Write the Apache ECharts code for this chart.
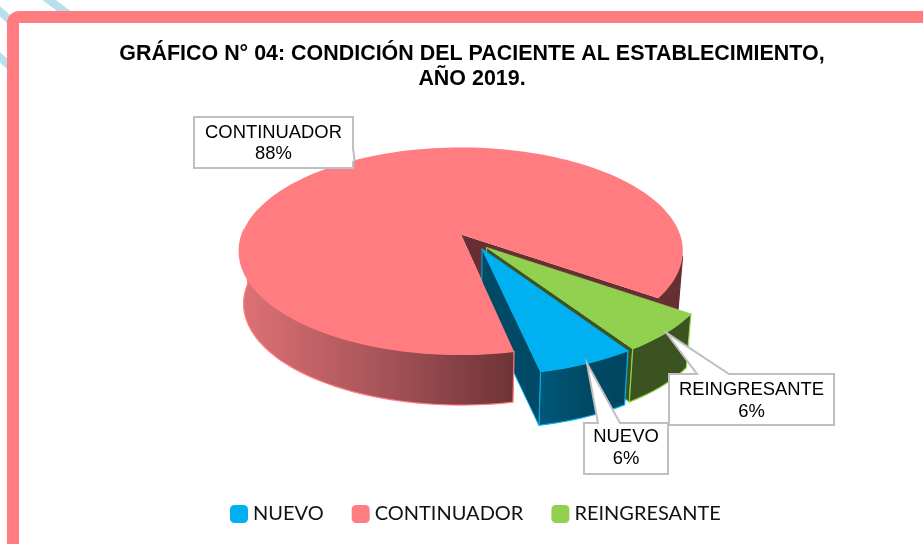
<!DOCTYPE html>
<html><head><meta charset="utf-8">
<style>html,body{margin:0;padding:0;background:#fff}#c{width:923px;height:544px}</style>
<script src="https://cdn.jsdelivr.net/npm/echarts@6/dist/echarts.min.js"></script>
</head><body><div id="c"></div>
<script>
const categories = ['NUEVO', 'CONTINUADOR', 'REINGRESANTE'];
const values = [6, 88, 6];
const colors = ['#00B0F0', '#FF7C80', '#92D050'];
const wallColors = ['#004A66', '#682F33', '#3B5320'];
const titleLines = 'GRÁFICO N° 04: CONDICIÓN DEL PACIENTE AL ESTABLECIMIENTO,\nAÑO 2019.';

// view of the pie
const firstAngle = 56.6, P = 0.159, R = 219, RY = 100.9, CX = 461, CY = 234.5, DEPTH = 53, BOTTOM_SCALE = 0.98;
const explode = [[0.094, 0.138], [0, 0], [0.114, 0.125]];
const extraDepth = [3.5, 0, 2.5];
// callouts: box x,y,w,h; side of the tail; tail base (two values along that side)
const callouts = [
  {box: [584, 423, 84, 51], side: 'top', base: [598, 620], lines: [437, 459]},
  {box: [194, 117, 159, 51], side: 'right', base: [148, 162], lines: [133, 154]},
  {box: [669, 374, 165, 51], side: 'top', base: [697, 729], lines: [390, 412]}
];

const total = values.reduce((a, b) => a + b, 0);
function sliceRange(i) {
  let s = firstAngle;
  for (let k = 0; k < i; k++) s += values[k] / total * 360;
  return [s, s + values[i] / total * 360];
}
function project(i, r, deg, low) {
  const a = deg * Math.PI / 180, e = explode[i];
  const x = e[0] + r * Math.cos(a), y = e[1] + r * Math.sin(a), w = 1 - P * y;
  const s = low ? BOTTOM_SCALE : 1;
  return [CX + s * R * x / w, CY + (low ? DEPTH + extraDepth[i] : 0) + s * RY * y / w];
}
function arc(i, from, to, low) {
  const n = Math.max(2, Math.ceil(Math.abs(to - from) / 2)), pts = [];
  for (let k = 0; k <= n; k++) pts.push(project(i, 1, from + (to - from) * k / n, low));
  return pts;
}
function poly(points, style, z2) { return {type: 'polygon', shape: {points}, style, z2, silent: true}; }
function wall(i, from, to, fill, stroke, z2) {
  return poly(arc(i, from, to, false).concat(arc(i, to, from, true)), {fill, stroke, lineWidth: 1.2}, z2);
}
function cutWall(i, deg, fill, stroke, z2) {
  return poly([project(i, 0, 0, false), project(i, 1, deg, false), project(i, 1, deg, true), project(i, 0, 0, true)],
    {fill, stroke, lineWidth: stroke ? 1 : 0}, z2);
}
function hgrad(x, x2, stops) {
  return {type: 'linear', x, y: 0, x2, y2: 0, colorStops: stops.map((c, k) => ({offset: k / (stops.length - 1), color: c}))};
}
function callout(i, tip) {
  const c = callouts[i], [x, y, w, h] = c.box, b = c.base;
  const pts = c.side === 'top'
    ? [[x, y], [b[0], y], tip, [b[1], y], [x + w, y], [x + w, y + h], [x, y + h]]
    : [[x, y], [x + w, y], [x + w, b[0]], tip, [x + w, b[1]], [x + w, y + h], [x, y + h]];
  const pct = Math.round(values[i] / total * 100) + '%';
  const txt = (t, yy) => ({type: 'text', z2: 21, silent: true,
    style: {text: t, x: x + w / 2, y: yy, align: 'center', verticalAlign: 'middle', fill: '#000', font: '18.4px "Liberation Sans"'}});
  return [poly(pts, {fill: '#fff', stroke: '#BFBFBF', lineWidth: 2}, 20), txt(categories[i], c.lines[0]), txt(pct, c.lines[1])];
}
function render(i) {
  const [s, e] = sliceRange(i), mid = (s + e) / 2, kids = [];
  const topPts = [project(i, 0, 0, false)].concat(arc(i, s, e, false));
  if (i === 1) {
    // inside of the cut, then the outer wall and the top
    kids.push(poly([project(1, 1, e, false), project(1, 0, 0, false), project(1, 1, s, false),
      project(1, 1, s, true), project(1, 0, 0, true), project(1, 1, e, true)], {fill: wallColors[1]}, 1));
    kids.push(wall(1, s, 182, hgrad(1, 0, ['#6E3336', '#A9555A', '#DE7275']), colors[1], 4));
    kids.push(wall(1, 372, e, wallColors[1], wallColors[1], 4));
    kids.push(poly(topPts, {fill: colors[1]}, 5));
  } else if (i === 0) {
    kids.push(wall(0, s, e, hgrad(0, 1, ['#00587A', '#004A66', '#004560']), colors[0], 3));
    kids.push(cutWall(0, e, wallColors[0], colors[0], 3));
    kids.push(poly(topPts, {fill: colors[0], stroke: colors[0], lineWidth: 0.5}, 7));
  } else {
    kids.push(cutWall(2, e, wallColors[2], colors[2], 2));
    kids.push(wall(2, s, e, wallColors[2], colors[2], 6));
    kids.push(poly(topPts, {fill: colors[2], stroke: colors[2], lineWidth: 0.5}, 8));
  }
  return {type: 'group', children: kids.concat(callout(i, project(i, 1, mid, false)))};
}
const chart = echarts.init(document.getElementById('c'));
chart.setOption({
  animation: false,
  backgroundColor: '#fff',
  title: {text: titleLines, left: 467, top: 37, textAlign: 'center',
    textStyle: {fontFamily: 'Liberation Sans', fontWeight: 'bold', fontSize: 21.45, lineHeight: 24.5, color: '#000'}},
  legend: {left: 225, top: 499, itemWidth: 18, itemHeight: 18, itemGap: 28, icon: 'roundRect', data: categories,
    selectedMode: false, textStyle: {fontFamily: 'Lato', fontSize: 20, color: '#111'}},
  graphic: [
    {type: 'line', z: -1, shape: {x1: 45, y1: -3, x2: 68, y2: 14}, style: {stroke: '#B9DEEC', lineWidth: 8}},
    {type: 'line', z: -1, shape: {x1: -4, y1: 8, x2: 12, y2: 22}, style: {stroke: '#B9DEEC', lineWidth: 8}},
    {type: 'line', z: -1, shape: {x1: -4, y1: 54, x2: 12, y2: 68}, style: {stroke: '#B9DEEC', lineWidth: 8}},
    {type: 'rect', z: 0, shape: {x: 13, y: 17, width: 930, height: 560, r: 6}, style: {fill: '#fff', stroke: '#FF7C80', lineWidth: 12}}
  ],
  series: categories.map((name, i) => ({
    type: 'custom', name, coordinateSystem: 'none', z: 2, silent: true,
    itemStyle: {color: colors[i]},
    data: [[values[i]]],
    renderItem: () => render(i)
  }))
});
</script></body></html>
